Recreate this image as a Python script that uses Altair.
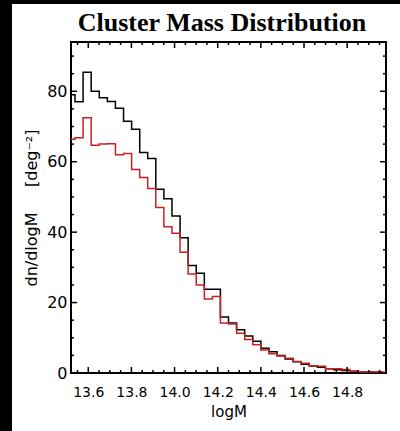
import altair as alt
import pandas as pd

# bin centres of the histogram (logM)
logm = [13.520, 13.557, 13.595, 13.632, 13.670, 13.707, 13.745, 13.782, 13.820, 13.857,
        13.894, 13.932, 13.969, 14.007, 14.044, 14.082, 14.119, 14.157, 14.194, 14.231,
        14.269, 14.306, 14.344, 14.381, 14.419, 14.456, 14.494, 14.531, 14.568, 14.606,
        14.643, 14.681, 14.718, 14.756, 14.793, 14.831, 14.868, 14.905, 14.943, 14.980]
# dn/dlogM, black curve
black_vals = [79.0, 77.0, 85.4, 80.0, 78.2, 77.1, 75.2, 71.5, 69.2, 62.6,
              60.9, 52.2, 49.5, 44.6, 38.4, 30.5, 28.3, 23.8, 23.8, 15.9,
              14.2, 12.3, 10.5, 9.0, 7.0, 6.0, 5.0, 4.0, 3.2, 2.5,
              2.0, 1.6, 1.2, 0.9, 0.7, 0.5, 0.3, 0.3, 0.2, 0.1]
# dn/dlogM, red curve
red_vals = [66.4, 66.8, 72.5, 64.7, 65.0, 65.1, 62.0, 62.3, 57.8, 55.5,
            52.4, 47.0, 41.5, 39.7, 34.3, 28.1, 25.0, 21.0, 21.7, 14.2,
            13.9, 11.3, 9.5, 8.0, 6.5, 5.5, 4.8, 4.2, 3.3, 2.8,
            2.0, 1.9, 1.2, 1.2, 1.0, 0.5, 0.3, 0.3, 0.3, 0.2]

x_major = [13.6, 13.8, 14.0, 14.2, 14.4, 14.6, 14.8]
x_minor = [13.55, 13.65, 13.7, 13.75, 13.85, 13.9, 13.95, 14.05, 14.1, 14.15,
           14.25, 14.3, 14.35, 14.45, 14.5, 14.55, 14.65, 14.7, 14.75, 14.85, 14.9, 14.95]
y_major = [0, 20, 40, 60, 80]
y_minor = [5, 10, 15, 25, 30, 35, 45, 50, 55, 65, 70, 75, 85, 90]

title_text = "Cluster Mass Distribution"
x_title = "logM"
y_title = "dn/dlogM\u00a0\u00a0\u00a0\u00a0\u00a0[deg\u207b\u00b2]"

W, H = 315, 331
PAD_L, PAD_T, PAD_R, PAD_B = 71, 42, 14, 58
FONT = "DejaVu Sans"

xs = alt.Scale(domain=[13.52, 14.98], nice=False, zero=False)
ys = alt.Scale(domain=[0, 94], nice=False)

df = pd.DataFrame({"logM": logm, "all": black_vals, "red": red_vals})

black_line = alt.Chart(df).mark_line(interpolate="step", color="#000000", strokeWidth=1.5).encode(
    x=alt.X("logM:Q", scale=xs, axis=alt.Axis(
        values=x_major, format=".1f", ticks=False, domain=False, grid=False,
        labelFont=FONT, labelFontSize=14, labelPadding=12, labelColor="#000000",
        title=x_title, titleFont=FONT, titleFontSize=15, titleFontWeight="normal",
        titlePadding=5, titleColor="#000000")),
    y=alt.Y("all:Q", scale=ys, axis=alt.Axis(
        values=y_major, format="d", ticks=False, domain=False, grid=False,
        labelFont=FONT, labelFontSize=16, labelPadding=4, labelColor="#000000",
        title=y_title, titleFont=FONT, titleFontSize=16,
        titleFontWeight="normal", titlePadding=7, titleColor="#000000")),
)
red_line = alt.Chart(df).mark_line(interpolate="step", color="#cc2020", strokeWidth=1.5).encode(
    x=alt.X("logM:Q", scale=xs),
    y=alt.Y("red:Q", scale=ys),
)


def xticks(vals, top, length):
    d = pd.DataFrame({"v": vals})
    y0 = 0 if top else H
    y1 = length if top else H - length
    return alt.Chart(d).mark_rule(color="#000000", strokeWidth=1.5).encode(
        x=alt.X("v:Q", scale=xs), y=alt.value(y0), y2=alt.value(y1))


def yticks(vals, right, length):
    d = pd.DataFrame({"v": vals})
    x0 = W if right else 0
    x1 = W - length if right else length
    return alt.Chart(d).mark_rule(color="#000000", strokeWidth=1.5).encode(
        y=alt.Y("v:Q", scale=ys), x=alt.value(x0), x2=alt.value(x1))


one = pd.DataFrame({"k": [0]})
left_band = alt.Chart(one).mark_rect(color="#000000").encode(
    x=alt.value(-PAD_L), x2=alt.value(-PAD_L + 12),
    y=alt.value(-PAD_T), y2=alt.value(H + PAD_B))
top_band = alt.Chart(one).mark_rect(color="#000000").encode(
    x=alt.value(-PAD_L), x2=alt.value(W + PAD_R),
    y=alt.value(-PAD_T), y2=alt.value(-PAD_T + 4))
title_mark = alt.Chart(one).mark_text(
    text=title_text, font="Liberation Serif", fontSize=26, fontWeight="bold",
    color="#000000", align="center", baseline="alphabetic").encode(
    x=alt.value(222 - PAD_L), y=alt.value(31 - PAD_T))

chart = alt.layer(
    black_line, red_line,
    xticks(x_major, False, 6), xticks(x_minor, False, 3),
    xticks(x_major, True, 6), xticks(x_minor, True, 3),
    yticks(y_major, False, 6), yticks(y_minor, False, 3),
    yticks(y_major, True, 6), yticks(y_minor, True, 3),
    left_band, top_band, title_mark,
).properties(
    width=W, height=H,
    autosize=alt.AutoSizeParams(type="none"),
    padding={"left": PAD_L, "top": PAD_T, "right": PAD_R, "bottom": PAD_B},
    background="#ffffff",
).configure_view(stroke="#000000", strokeWidth=2)

chart.save("out.html", embed_options={"renderer": "svg", "actions": False})
